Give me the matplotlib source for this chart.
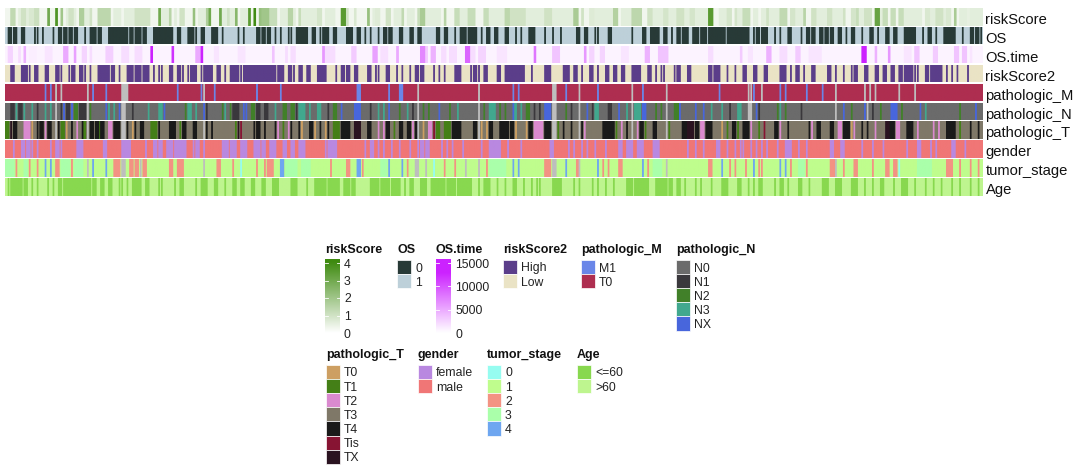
import matplotlib
matplotlib.use("Agg")
import matplotlib.pyplot as plt
import numpy as np
from matplotlib.colors import LinearSegmentedColormap, to_rgb
from matplotlib.patches import Rectangle

plt.rcParams["font.family"] = ["Liberation Sans", "DejaVu Sans"]

N_SAMPLES = 370
NA_COLOR = "#BEBEBE"

# continuous tracks: (first sample, last sample, value) on top of a low base value
risk_base = 0.3
risk_faint = [
    (5, 10, 0.6), (23, 26, 0.6), (29, 31, 0.6), (41, 43, 0.6), (45, 48, 0.6), (59, 61, 0.6), (64, 64, 0.6), (73, 75, 0.6),
    (82, 86, 0.6), (89, 92, 0.6), (104, 106, 0.6), (109, 109, 0.6), (112, 117, 0.6), (121, 124, 0.6), (139, 141, 0.6),
    (147, 149, 0.6), (152, 154, 0.6), (158, 164, 0.6), (172, 175, 0.6), (183, 188, 0.6), (197, 203, 0.6), (207, 214, 0.6),
    (223, 229, 0.6), (233, 237, 0.6), (245, 249, 0.6), (251, 253, 0.6), (257, 258, 0.6), (260, 265, 0.6), (270, 272, 0.6),
    (277, 278, 0.6), (286, 287, 0.6), (289, 292, 0.6), (299, 301, 0.6), (307, 311, 0.6), (313, 316, 0.6), (323, 325, 0.6),
    (331, 332, 0.6), (340, 345, 0.6), (350, 352, 0.6), (355, 355, 0.6), (361, 364, 0.6), (365, 369, 0.6),
]
risk_runs = [
    (2, 3, 1.3), (6, 7, 1.0), (9, 10, 0.8), (11, 12, 1.1), (16, 16, 3.0), (19, 19, 3.7), (21, 21, 2.0),
    (24, 25, 1.0), (28, 29, 1.7), (32, 32, 1.0), (35, 39, 1.4), (41, 41, 0.6), (49, 51, 1.0), (52, 54, 1.0),
    (58, 58, 3.0), (62, 62, 1.5), (66, 66, 1.0), (67, 67, 1.0), (71, 71, 2.2), (76, 76, 1.7), (77, 77, 3.0),
    (81, 81, 3.0), (84, 84, 1.0), (87, 87, 2.5), (92, 92, 3.5), (94, 94, 4.0), (96, 96, 2.2), (97, 99, 2.0),
    (100, 102, 1.2), (107, 108, 1.5), (111, 111, 1.2), (118, 119, 0.9), (127, 128, 3.5), (129, 129, 1.0),
    (132, 132, 0.8), (137, 137, 2.2), (140, 141, 0.7), (144, 145, 1.0), (150, 150, 1.3), (156, 156, 1.2),
    (157, 158, 1.8), (160, 161, 0.6), (166, 166, 1.5), (170, 171, 1.2), (175, 177, 1.2), (181, 182, 1.2),
    (189, 190, 1.4), (191, 196, 1.0), (204, 206, 1.0), (215, 216, 1.8), (218, 218, 1.0), (221, 222, 0.7),
    (230, 231, 1.6), (237, 240, 1.4), (243, 244, 1.0), (249, 250, 0.9), (254, 256, 1.0), (259, 260, 0.9),
    (266, 267, 3.5), (273, 274, 0.9), (276, 276, 0.9), (279, 281, 1.2), (283, 284, 0.6), (288, 288, 1.0),
    (293, 295, 1.3), (297, 298, 0.9), (302, 302, 1.5), (305, 306, 1.0), (311, 312, 1.0), (317, 317, 1.0),
    (320, 321, 0.9), (322, 322, 1.2), (325, 327, 1.0), (329, 330, 3.2), (332, 333, 1.2), (335, 336, 1.2),
    (338, 339, 1.2), (345, 346, 0.6), (348, 349, 0.8), (352, 354, 1.0), (356, 357, 0.8), (359, 359, 1.8),
    (364, 364, 0.5),
]
time_base = 700
time_runs = [
    (1, 2, 2500), (5, 5, 2000), (7, 7, 4500), (9, 11, 1000), (15, 17, 1500), (22, 23, 5000), (26, 26, 5500),
    (29, 30, 2500), (32, 32, 2000), (38, 40, 2800), (44, 46, 2000), (49, 51, 2000), (55, 55, 14000),
    (63, 63, 12000), (72, 73, 5000), (74, 74, 14000), (79, 80, 1500), (88, 90, 1500), (101, 101, 3500),
    (106, 106, 2000), (108, 109, 2000), (120, 120, 6000), (121, 124, 2000), (131, 132, 3000),
    (139, 140, 5500), (142, 144, 1800), (148, 148, 5000), (157, 158, 7000), (159, 159, 3000), (161, 162, 4500),
    (165, 166, 2000), (168, 170, 2000), (174, 175, 9000), (176, 177, 2000), (179, 181, 2500), (186, 189, 1500),
    (200, 200, 8000), (207, 209, 3500), (219, 219, 6000), (221, 222, 2500), (225, 226, 2500), (233, 235, 1500),
    (242, 243, 4500), (247, 250, 3500), (266, 267, 2000), (278, 278, 3000), (281, 282, 1500), (288, 289, 4500),
    (293, 295, 2000), (299, 300, 3000), (304, 308, 1500), (324, 325, 13000), (329, 329, 4500), (334, 334, 6000),
    (340, 342, 1500), (344, 345, 3500), (351, 352, 3000), (359, 360, 3500), (362, 363, 3500), (365, 365, 1500),
]

# categorical tracks: sample ranges that differ from the most common class
os_dead = [
    (1, 2), (3, 4), (6, 7), (11, 11), (12, 12), (14, 14), (18, 18), (20, 21), (22, 23), (24, 25), (26, 27), (30, 30),
    (32, 34), (35, 36), (39, 46), (47, 48), (49, 51), (52, 53), (56, 63), (65, 66), (69, 71), (72, 72), (74, 75),
    (78, 80), (82, 82), (88, 88), (90, 90), (95, 96), (97, 98), (99, 100), (102, 102), (104, 104), (107, 107),
    (108, 108), (110, 114), (116, 117), (119, 119), (120, 122), (124, 125), (129, 131), (133, 134), (136, 136),
    (138, 138), (141, 141), (143, 144), (145, 146), (149, 150), (153, 154), (156, 157), (163, 164), (166, 167),
    (170, 170), (172, 174), (175, 178), (180, 180), (182, 183), (185, 186), (189, 190), (193, 193), (195, 195),
    (198, 200), (204, 204), (207, 207), (210, 210), (216, 217), (219, 220), (223, 223), (224, 224), (228, 229),
    (237, 237), (241, 242), (244, 247), (249, 250), (252, 252), (254, 255), (256, 258), (260, 262), (263, 265),
    (266, 272), (273, 281), (283, 283), (284, 285), (286, 288), (291, 291), (293, 293), (296, 297), (301, 301),
    (303, 304), (305, 306), (308, 309), (310, 311), (312, 313), (315, 316), (318, 318), (320, 321), (324, 324),
    (327, 328), (330, 330), (333, 334), (336, 337), (340, 344), (347, 347), (349, 350), (352, 352), (355, 359),
    (362, 362), (365, 366), (367, 368), (369, 369),
]
risk2_high = [
    (2, 3), (6, 8), (9, 9), (11, 12), (15, 16), (19, 20), (21, 21), (24, 24), (25, 26), (28, 29), (30, 30), (32, 32),
    (35, 39), (40, 41), (43, 43), (46, 48), (49, 51), (52, 54), (56, 56), (58, 58), (59, 59), (62, 63), (65, 66),
    (67, 67), (69, 69), (70, 72), (74, 74), (75, 78), (80, 81), (83, 83), (85, 88), (89, 89), (90, 102), (103, 105),
    (107, 108), (109, 109), (111, 112), (114, 115), (118, 121), (125, 125), (127, 128), (129, 130), (132, 133),
    (137, 138), (140, 140), (141, 141), (144, 145), (148, 148), (150, 150), (153, 153), (155, 156), (157, 158),
    (162, 162), (164, 164), (166, 166), (170, 172), (176, 176), (177, 178), (179, 179), (181, 182), (186, 187),
    (189, 196), (199, 199), (204, 206), (211, 213), (215, 216), (218, 218), (221, 222), (224, 224), (227, 228),
    (230, 231), (233, 234), (237, 240), (243, 244), (246, 246), (248, 248), (249, 249), (253, 253), (254, 255),
    (258, 259), (266, 267), (268, 270), (273, 273), (276, 276), (279, 280), (283, 284), (287, 288), (293, 295),
    (297, 297), (299, 300), (302, 302), (305, 306), (311, 312), (314, 314), (317, 317), (320, 320), (321, 322),
    (325, 326), (329, 330), (332, 333), (335, 336), (338, 339), (340, 343), (344, 344), (345, 345), (348, 349),
    (350, 354), (356, 356), (358, 358), (360, 360), (364, 364),
]
m_m1 = [
    15, 17, 33, 38, 65, 74, 79, 95, 104, (133, 134), 145, (149, 150), 192, 194, 212, 224, 241, 270, 283, 293, 295,
    303, 309,
]
m_na = [
    19, 21, 31, (44, 46), 75, 156, 179, (207, 208), 217, 237, 250, 281, 282, 286, 314, 325, 327, 329, 338, 344,
]
n_n1 = [
    (2, 3), (5, 6), 12, 21, (23, 24), (28, 30), 48, 76, (86, 88), (95, 96), (98, 99), 110, 122, 138, 154, 200, 202,
    214, 222, (228, 229), 274, 285, 301, 328,
]
n_n2 = [
    (26, 27), 32, 68, 82, 85, (93, 94), (105, 106), (108, 109), (124, 125), 149, 158, 160, 168, 181, 187, 189,
    (197, 198), 212, (253, 255), 246, 248, 292, 295, 320, 331, 335, 339, 361,
]
n_n3 = [
    4, 7, 10, 15, 17, 39, 41, 54, (58, 59), (69, 70), 72, 83, 102, (111, 113), 115, (118, 119), 141, 143, 152, 171,
    (183, 185), (192, 193), 195, (223, 224), 235, (238, 240), 267, 271, (277, 278), 293, 348,
]
n_nx = [
    22, 25, 38, 43, 60, 75, 90, 91, 127, (132, 134), 145, 164, 192, (204, 206), 217, 220, 232, (241, 242), 255, 261,
    264, 284, 317, 325, (335, 337), 346, 367,
]
n_na = [19, 31, (44, 45), 156, 179, (207, 208), 217, 237, 250, (281, 282), 314, 326]
t_t0 = [10, 23, 48, 112, 117, 121, 143, 158, 180, 182, 193, 197, 271, 275, 320]
t_t1 = [
    (0, 1), (21, 22), (29, 30), (35, 36), (55, 57), 66, 78, 87, 105, (124, 126), 138, 147, (163, 164), (166, 168), 187,
    209, 231, 242, 251, 273, 277, 285, 307, (357, 359), 361,
]
t_t2 = [
    (7, 9), 15, 27, (39, 40), 71, 76, 103, 107, 141, 143, 154, (160, 161), (200, 203), 219, 233, 239, (263, 264), 282,
    293, 305, (315, 316), 321, 329, (337, 338), 345, 351, 353,
]
t_t4 = [
    (3, 4), 12, (13, 14), (16, 17), 20, 25, 29, (32, 33), (34, 35), (36, 37), (41, 43), 46, 49, (51, 52), 58, (62, 64),
    (67, 68), (71, 72), 76, 78, 94, (95, 96), 98, 102, 108, 111, (115, 116), 119, 122, (127, 130), (137, 138),
    (144, 145), (149, 150), (152, 153), (155, 156), (169, 172), (177, 178), (183, 184), (187, 190), (191, 192),
    (198, 199), (204, 206), 211, 214, 218, (226, 230), 235, (240, 241), (245, 246), (256, 260), (261, 262), (265, 267),
    (275, 276), (279, 281), (291, 292), 296, 304, (307, 308), (312, 313), (317, 319), 324, 326, (333, 336), (341, 343),
    (356, 359), 365, 368,
]
t_tis = [89, 162, 287]
t_tx = [2, 88, (132, 134), (258, 260), (333, 334)]
t_na = [19, 31, (44, 45), 75, 156, 179, (207, 208), 217, 237, 250]
gender_female = [
    3, (6, 7), (8, 9), 10, 12, 17, (19, 20), 21, (27, 29), (37, 38), (44, 47), 53, (56, 57), (58, 59), (61, 63),
    (64, 68), 71, (72, 73), 75, (82, 84), (85, 87), (89, 91), (94, 96), (97, 98), (100, 102), (105, 106), (108, 109),
    (111, 113), 121, (122, 125), 136, (138, 139), 141, 143, 146, 149, 153, 156, (157, 158), (159, 160), 165, 167, 169,
    173, 180, (183, 187), 190, 195, (206, 207), 213, 215, 218, 220, 223, 227, (232, 233), (235, 237), (239, 241),
    (245, 247), 258, 261, 264, (269, 270), 273, 276, 278, 279, 282, 284, 286, 288, 292, (295, 297), 300, 303,
    (312, 313), (316, 317), 324, 328, 332, 341, (345, 346), 350, 352, (358, 359), 363,
]
stage_0 = [89, 162, 338]
stage_2 = [
    4, 9, 12, (19, 20), 25, (41, 43), (47, 48), (49, 50), (52, 53), (62, 63), (65, 67), (80, 81), 86, 95, 98,
    (99, 101), 115, 123, (129, 130), 135, 152, 166, 170, 182, (204, 206), (216, 217), 226, 228, (232, 233), 243,
    (266, 267), 274, 276, 280, 285, 286, 297, 303, (312, 314), 317, (321, 322), 328, (333, 334), (336, 337),
    (356, 358), 361, 365, 368,
]
stage_3 = [
    (0, 3), (7, 8), (21, 24), (26, 29), (106, 110), (112, 115), (142, 144), (183, 189), (245, 248), (300, 302),
    (345, 350),
]
stage_4 = [15, 17, 33, 38, (104, 105), (133, 134), 145, 150, 192, 194, 212, 224, 241, 271, 283, 293, 295]
stage_na = [31, (44, 45), 51, 75, (155, 156), 159, 174, 179, (207, 208), 217, 250, 314]
age_young = [
    1, (2, 6), (7, 8), 10, 12, 16, 18, (20, 21), (22, 32), (33, 34), (36, 37), (39, 40), 43, 44, 46, (48, 51), (53, 54),
    58, 59, 64, (66, 67), 72, (74, 76), (79, 80), 83, (86, 87), (89, 90), (93, 94), (97, 98), (101, 103), (108, 110),
    114, (117, 121), (122, 126), (128, 130), (131, 132), (138, 141), (142, 145), (146, 149), 151, (153, 154),
    (157, 159), (161, 166), (167, 170), (171, 176), 179, (181, 183), 186, 189, (192, 193), 196, 199, 201, 202,
    (207, 210), 215, 217, 222, 224, 227, 230, (235, 237), (238, 243), (246, 250), (251, 252), (254, 255), 257, 261, 263,
    267, (271, 273), (277, 278), 281, 283, (285, 286), 291, (293, 294), 296, (300, 301), 304, (309, 311), (314, 316),
    (320, 322), 325, 328, (331, 332), 336, (339, 341), 344, 348, 351, 354, 358, 361, 365, 368,
]

# tracks and legends
track_names = ["riskScore", "OS", "OS.time", "riskScore2", "pathologic_M", "pathologic_N", "pathologic_T",
               "gender", "tumor_stage", "Age"]
os_labels = ["0", "1"]
os_colors = ["#283A37", "#BDD0D9"]
risk2_labels = ["High", "Low"]
risk2_colors = ["#5B3E8A", "#EAE3C5"]
m_labels = ["M1", "T0"]
m_colors = ["#6A86E8", "#AE2E50"]
n_labels = ["N0", "N1", "N2", "N3", "NX"]
n_colors = ["#6B6B6B", "#3A383C", "#418029", "#41A88E", "#4866DC"]
t_labels = ["T0", "T1", "T2", "T3", "T4", "Tis", "TX"]
t_colors = ["#CD9F62", "#447F17", "#DA8ACF", "#7F7868", "#1A1A1A", "#871433", "#2A1320"]
gender_labels = ["female", "male"]
gender_colors = ["#B988E0", "#F07676"]
stage_labels = ["0", "1", "2", "3", "4"]
stage_colors = ["#96FCF0", "#BFFD8D", "#F39383", "#AAFFAA", "#6EA6F0"]
age_labels = ["<=60", ">60"]
age_colors = ["#88D84F", "#BEF58F"]
risk_ticks = [0, 1, 2, 3, 4]
time_ticks = [0, 5000, 10000, 15000]

risk_cmap = LinearSegmentedColormap.from_list("risk", ["#FFFFFF", "#3E8A0F"])
time_cmap = LinearSegmentedColormap.from_list("ostime", ["#FFFFFF", "#CC22FF"])
TIME_TOP = 13000
SUB = 3  # each sample gets SUB columns, the last one of a run stays background

W, H = 1080, 472


def px_axes(fig, x0, y0, x1, y1):
    return fig.add_axes([x0 / W, 1 - y1 / H, (x1 - x0) / W, (y1 - y0) / H])


def cat_track(base, *layers):
    column = np.tile(to_rgb(base), (N_SAMPLES * SUB, 1))
    for ranges, color in layers:
        for r in ranges:
            first, last = r if isinstance(r, tuple) else (r, r)
            column[first * SUB:(last + 1) * SUB - 1] = to_rgb(color)
    return column


def cont_track(base, runs, cmap, top):
    vals = np.full(N_SAMPLES * SUB, float(base))
    for first, last, v in runs:
        vals[first * SUB:(last + 1) * SUB] = v
    return cmap(np.clip(vals / top, 0, 1))[:, :3]


tracks = [
    cont_track(risk_base, risk_faint + risk_runs, risk_cmap, 4.1),
    cat_track(os_colors[1], (os_dead, os_colors[0])),
    cont_track(time_base, time_runs, time_cmap, TIME_TOP),
    cat_track(risk2_colors[1], (risk2_high, risk2_colors[0])),
    cat_track(m_colors[1], (m_m1, m_colors[0]), (m_na, NA_COLOR)),
    cat_track(n_colors[0], (n_n1, n_colors[1]), (n_n2, n_colors[2]), (n_n3, n_colors[3]), (n_nx, n_colors[4]),
              (n_na, NA_COLOR)),
    cat_track(t_colors[3], (t_t0, t_colors[0]), (t_t1, t_colors[1]), (t_t2, t_colors[2]), (t_t4, t_colors[4]),
              (t_tis, t_colors[5]), (t_tx, t_colors[6]), (t_na, NA_COLOR)),
    cat_track(gender_colors[1], (gender_female, gender_colors[0])),
    cat_track(stage_colors[1], (stage_0, stage_colors[0]), (stage_2, stage_colors[2]), (stage_3, stage_colors[3]),
              (stage_4, stage_colors[4]), (stage_na, NA_COLOR)),
    cat_track(age_colors[1], (age_young, age_colors[0])),
]

fig = plt.figure(figsize=(W / 100, H / 100), dpi=100)

for i, (name, column) in enumerate(zip(track_names, tracks)):
    top = 8 + i * 18.9
    ax = px_axes(fig, 5, top, 983, top + 17.6)
    ax.imshow(column[np.newaxis, :, :], aspect="auto", interpolation="hanning")
    ax.axis("off")
    fig.text(985.5 / W, 1 - (top + 12) / H, name, fontsize=10.6, color="#111111", va="center", ha="left")

# overlay in pixel units for the legends
lg = fig.add_axes([0, 0, 1, 1], zorder=5)
lg.set_xlim(0, W)
lg.set_ylim(H, 0)
lg.axis("off")


def discrete_legend(x, y, title, labels, colors):
    lg.text(x, y + 1, title, fontsize=9, fontweight="bold", color="#111111", va="center", ha="left")
    for j, (lab, col) in enumerate(zip(labels, colors)):
        top = y + 11 + j * 14.1
        lg.add_patch(Rectangle((x, top), 14, 14.1, facecolor=col, edgecolor="#FFFFFF", linewidth=0.5))
        lg.text(x + 18, top + 8.5, lab, fontsize=8.8, color="#222222", va="center", ha="left")


def bar_legend(x, y, title, cmap, ticks, top_val, label_x):
    lg.text(x, y + 1, title, fontsize=9, fontweight="bold", color="#111111", va="center", ha="left")
    bar = px_axes(fig, x, 259, x + 15, 333)
    span = ticks[-1] * 74 / 70
    grad = np.linspace(span, 0, 200)[:, np.newaxis]
    bar.imshow(cmap(np.clip(grad / top_val, 0, 1)), aspect="auto", interpolation="bilinear")
    bar.axis("off")
    for t in ticks:
        yy = 333 - 70 * t / ticks[-1]
        lg.text(label_x, yy + 1.5, str(t), fontsize=8.8, color="#222222", va="center", ha="left")
        if t != ticks[0]:
            lg.plot([x, x + 3], [yy, yy], color="white", lw=0.6)
            lg.plot([x + 12, x + 15], [yy, yy], color="white", lw=0.6)


row1, row2 = 249, 354
bar_legend(325, row1, "riskScore", risk_cmap, risk_ticks, 4.1, 344)
discrete_legend(397, row1, "OS", os_labels, os_colors)
bar_legend(436, row1, "OS.time", time_cmap, time_ticks, TIME_TOP, 455)
discrete_legend(503, row1, "riskScore2", risk2_labels, risk2_colors)
discrete_legend(581, row1, "pathologic_M", m_labels, m_colors)
discrete_legend(676, row1, "pathologic_N", n_labels, n_colors)
discrete_legend(326, row2, "pathologic_T", t_labels, t_colors)
discrete_legend(418, row2, "gender", gender_labels, gender_colors)
discrete_legend(487, row2, "tumor_stage", stage_labels, stage_colors)
discrete_legend(577, row2, "Age", age_labels, age_colors)

fig.savefig("out.png", dpi=100)
